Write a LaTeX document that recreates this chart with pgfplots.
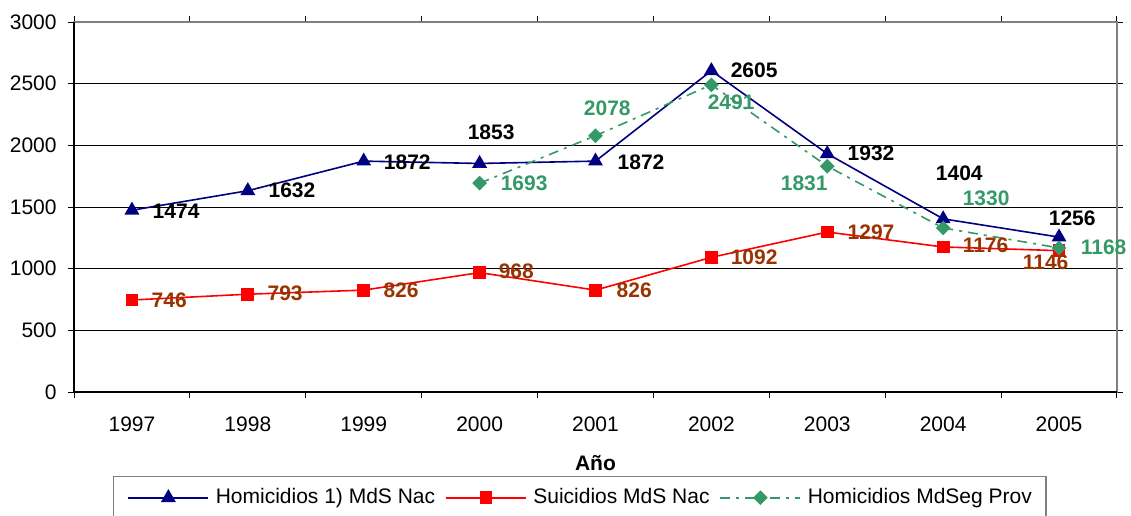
\documentclass[border=0pt]{standalone}
\usepackage{pgfplots}
\pgfplotsset{compat=1.18}
\usepackage{pgfplotstable}
\usepackage{fontspec}
\setmainfont{Liberation Sans}
\definecolor{navyc}{HTML}{000080}
\definecolor{redc}{HTML}{FF0000}
\definecolor{greenc}{HTML}{339966}
\definecolor{brownc}{HTML}{993300}
\definecolor{gridc}{HTML}{808080}

\pgfplotstableread{
x y lbl dx dy
1 1474 1474 10 -0.5
2 1632 1632 10 0
3 1872 1872 9.7 -0.5
4 1853 1853 -6.3 15.7
5 1872 1872 10.7 -0.5
6 2605 2605 9.3 0.3
7 1932 1932 9.8 0.3
8 1404 1404 -4 22.9
9 1256 1256 -5.5 9.5
}\homtab

\pgfplotstableread{
x y lbl dx dy
1 746 746 9.5 0
2 793 793 9.5 0.5
3 826 826 9.5 0
4 968 968 9.2 0.8
5 826 826 10.2 0
6 1092 1092 9.3 0
7 1297 1297 9.8 0
8 1176 1176 9.4 1
9 1146 1146 -18.5 -5.6
}\suitab

\pgfplotstableread{
x y lbl dx dy
4 1693 1693 10.2 0
5 2078 2078 -6.2 13.8
6 2491 2491 -2.2 -8.6
7 1831 1831 -23.6 -8.4
8 1330 1330 9.4 15
9 1168 1168 10.5 0.5
}\provtab

\begin{document}
\begin{tikzpicture}[font=\fontsize{10.5}{12.6}\selectfont]
\useasboundingbox (0,0) rectangle (565.5pt,257.5pt);
\begin{axis}[
  at={(37pt,61.5pt)}, anchor=south west,
  width=521.5pt, height=185pt, scale only axis,
  xmin=0.5, xmax=9.5, ymin=0, ymax=3000,
  xtick={1,2,3,4,5,6,7,8,9},
  xticklabels={1997,1998,1999,2000,2001,2002,2003,2004,2005},
  minor xtick={0.5,1.5,2.5,3.5,4.5,5.5,6.5,7.5,8.5,9.5},
  ytick={0,500,1000,1500,2000,2500,3000},
  /pgf/number format/1000 sep={},
  /pgf/number format/assume math mode=true,
  ymajorgrids, major grid style={black, line width=0.5pt},
  axis line style={gridc, line width=0.6pt},
  tick align=outside,
  major tick length=3pt, minor tick length=3pt,
  major x tick style={draw=none},
  minor x tick style={black, line width=0.5pt},
  major y tick style={black, line width=0.5pt},
  tick label style={font=\fontsize{10.5}{12.6}\selectfont},
  yticklabel style={anchor=east, inner sep=0pt, xshift=-5.5pt},
  xticklabel style={anchor=center, inner sep=0pt, yshift=-13pt},
  xlabel={\textbf{Año}},
  xlabel style={at={(axis description cs:0.5,-0.192)}, anchor=center, inner sep=0pt},
  legend style={at={(axis description cs:0.0374,-0.227)}, anchor=north west,
    draw=gridc, line width=0.6pt, legend columns=3, inner xsep=7pt, inner ysep=4pt,
    nodes={inner xsep=0pt, inner ysep=2pt},
    /tikz/every odd column/.append style={column sep=3.3pt},
    /tikz/every even column/.append style={column sep=5pt},
    font=\fontsize{10.5}{12.6}\selectfont},
  legend image code/.code={\draw[mark repeat=2,mark phase=2] plot coordinates {(0pt,0pt) (20pt,0pt) (40pt,0pt)};},
  visualization depends on={\thisrow{dx} \as \dx},
  visualization depends on={\thisrow{dy} \as \dy},
  point meta=explicit symbolic,
  clip=false,
]
\addplot[navyc, line width=0.8pt, mark=triangle*, mark size=3.5pt, mark options={solid, fill=navyc},
  nodes near coords, nodes near coords style={anchor=west, inner sep=0pt, xshift=\dx pt, yshift=\dy pt, text=black, font=\fontsize{10.5}{12.6}\selectfont\bfseries}]
  table[x=x, y=y, meta=lbl] {\homtab};
\addlegendentry{Homicidios 1) MdS Nac}
\addplot[redc, line width=0.8pt, mark=square*, mark size=2.8pt, mark options={solid, fill=redc},
  nodes near coords, nodes near coords style={anchor=west, inner sep=0pt, xshift=\dx pt, yshift=\dy pt, text=brownc, font=\fontsize{10.5}{12.6}\selectfont\bfseries}]
  table[x=x, y=y, meta=lbl] {\suitab};
\addlegendentry{Suicidios MdS Nac}
\addplot[greenc, line width=0.8pt, dash pattern=on 5pt off 3pt on 1.5pt off 3pt, mark=square*, mark size=2.2pt, mark options={solid, fill=greenc, rotate=45},
  nodes near coords, nodes near coords style={anchor=west, inner sep=0pt, xshift=\dx pt, yshift=\dy pt, text=greenc, font=\fontsize{10.5}{12.6}\selectfont\bfseries}]
  table[x=x, y=y, meta=lbl] {\provtab};
\addlegendentry{Homicidios MdSeg Prov}
\draw[black, line width=0.6pt] (rel axis cs:0,1) -- (rel axis cs:0,0) -- (rel axis cs:1,0);
\end{axis}
\end{tikzpicture}
\end{document}
